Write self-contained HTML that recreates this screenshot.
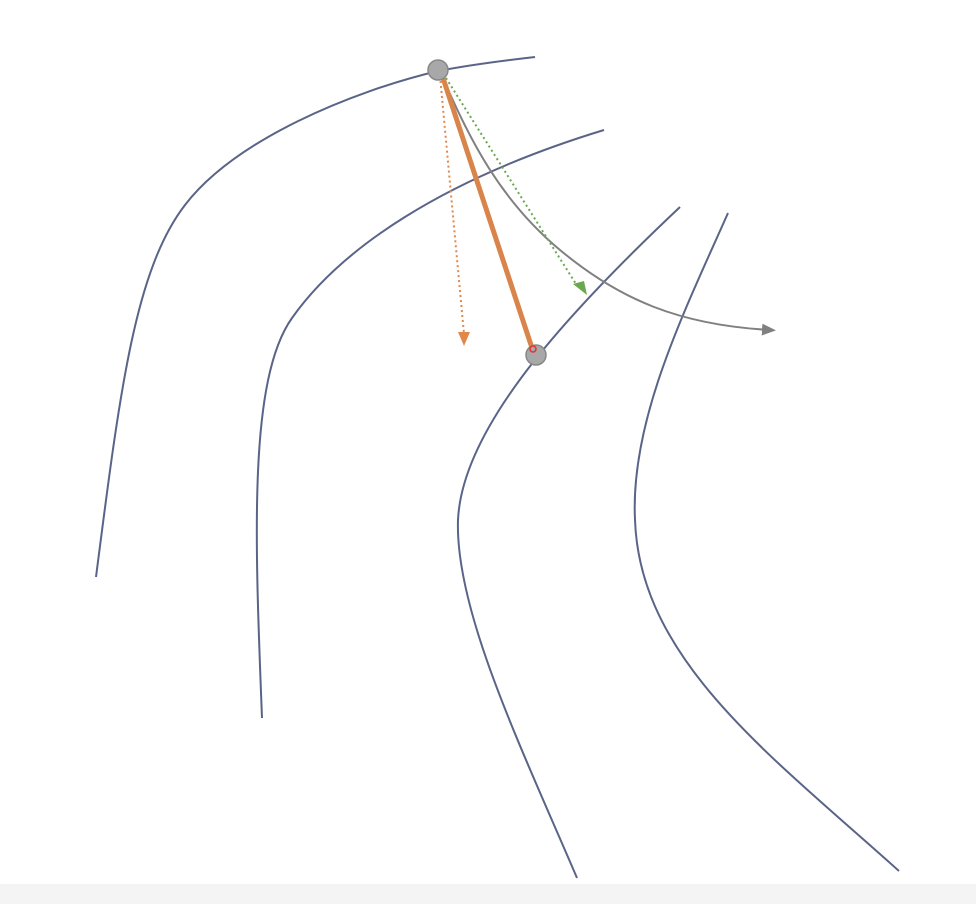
<!DOCTYPE html>
<html><head><meta charset="utf-8"><style>
html,body{margin:0;padding:0;background:#fff;}
svg{display:block;}
</style></head><body>
<svg width="976" height="904" viewBox="0 0 976 904">
<defs>
<marker id="ag" markerWidth="14" markerHeight="12" refX="8" refY="6" orient="auto" markerUnits="userSpaceOnUse"><path d="M0,0 L14,6 L0,12z" fill="#808080"/></marker>
</defs>
<rect x="0" y="884" width="976" height="20" fill="#f4f4f4"/>
<g fill="none" stroke="#5a6487" stroke-width="2">
<path d="M96,577 C120,390 135,270 185,205 C235,140 350,92 438,71 C480,63 510,60 535,57"/>
<path d="M262,718 C255,540 248,380 292,318 C340,250 440,180 604,130"/>
<path d="M577,878 C520,745 455,610 458,520 C462,430 560,320 680,207"/>
<path d="M899,871 C770,755 640,660 635,520 C630,420 685,310 728,213"/>
</g>
<path d="M443,78 C470,140 500,200 560,250 C620,300 680,325 770,330" fill="none" stroke="#808080" stroke-width="2" marker-end="url(#ag)"/>
<line x1="440" y1="76" x2="464" y2="334" stroke="#e0884a" stroke-width="2" stroke-dasharray="2,3"/>
<polygon points="458,332 470,332 464,346" fill="#e0884a"/>
<line x1="446" y1="78" x2="576" y2="284" stroke="#6aa84f" stroke-width="2" stroke-dasharray="2,3"/>
<polygon points="573,284 584,281 587,295" fill="#6aa84f"/>
<line x1="441" y1="72" x2="532" y2="348" stroke="#d9844a" stroke-width="5"/>
<circle cx="438" cy="70" r="10" fill="#a8a8a8" stroke="#888" stroke-width="1.5"/>
<circle cx="536" cy="355" r="10" fill="#a8a8a8" stroke="#888" stroke-width="1.5"/>
<circle cx="533" cy="349" r="3" fill="none" stroke="#e53030" stroke-width="1.5"/>
</svg>
</body></html>
